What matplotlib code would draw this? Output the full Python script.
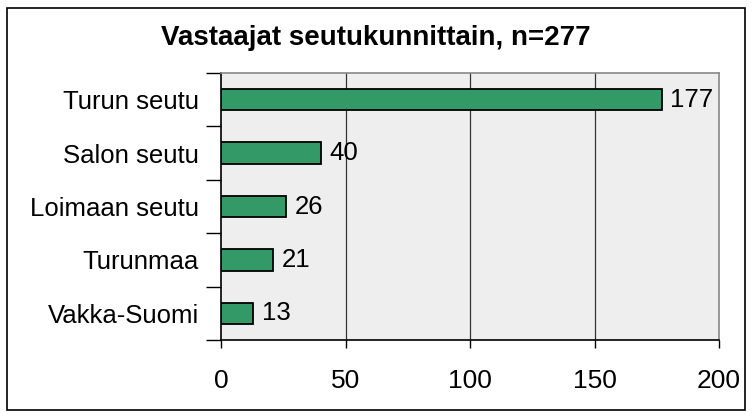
import matplotlib
matplotlib.use("Agg")
import matplotlib.pyplot as plt
from matplotlib.patches import Rectangle

categories = ["Turun seutu", "Salon seutu", "Loimaan seutu", "Turunmaa", "Vakka-Suomi"]
values = [177, 40, 26, 21, 13]
xticks = [0, 50, 100, 150, 200]
title = "Vastaajat seutukunnittain, n=277"

plt.rcParams['font.family'] = ['Liberation Sans', 'DejaVu Sans']

fig = plt.figure(figsize=(7.52, 4.16), dpi=100)
fig.patch.set_facecolor('white')
fig.patches.append(Rectangle((7/752, 6/416), 738/752, 402/416, transform=fig.transFigure,
                             fill=False, edgecolor='black', linewidth=1.2, zorder=0))

ax = fig.add_axes([221/752, 76/416, 498/752, 267/416])
ax.set_facecolor('#eeeeee')
y = list(range(len(categories)))
ax.barh(y, values, height=0.4, color='#339966', edgecolor='black', linewidth=1.3, zorder=3)
ax.set_ylim(len(categories) - 0.5, -0.5)
ax.set_xlim(0, 200)
ax.set_xticks(xticks)
ax.set_xticklabels([str(t) for t in xticks], fontsize=19)
ax.set_yticks(y)
ax.set_yticklabels(categories, fontsize=18.5)
ax.tick_params(axis='y', length=0, pad=16)
ax.set_yticks([i + 0.5 for i in range(-1, len(categories))], minor=True)
ax.tick_params(axis='y', which='minor', length=11, width=1, color='black', direction='out')
ax.tick_params(axis='x', length=6, width=1, direction='out', pad=15)
for t in xticks[1:-1]:
    ax.axvline(t, color='#333333', linewidth=0.9, zorder=1)
for s in ['top', 'right']:
    ax.spines[s].set_color('#888888')
    ax.spines[s].set_linewidth(1.2)
for s in ['left', 'bottom']:
    ax.spines[s].set_color('black')
    ax.spines[s].set_linewidth(1.2)
for yi, v in zip(y, values):
    ax.text(v + 3.5, yi, str(v), va='center', ha='left', fontsize=18.5, zorder=4)

fig.text(0.5, 1 - 38/416, title, ha='center', va='center', fontsize=20, fontweight='bold')

fig.savefig("out.png", dpi=100)
